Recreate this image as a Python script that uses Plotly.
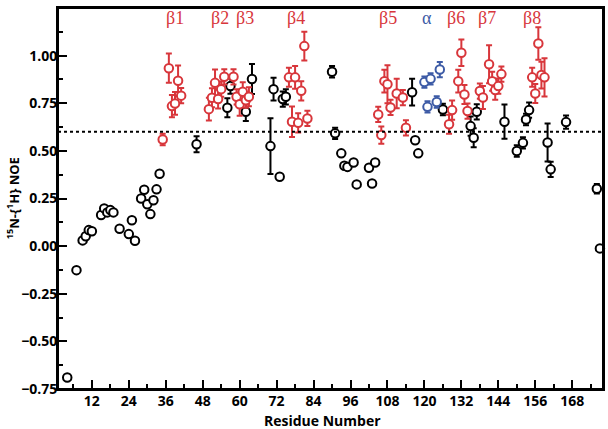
import plotly.graph_objects as go

# ---------------- data ----------------
black_x = [4, 7, 9, 10, 11, 12, 15, 16, 17, 18, 19, 21, 24, 25, 26, 28, 29, 30, 31, 32, 33, 34,
           73, 93, 94, 95, 97, 98, 102, 103, 104, 117, 118, 177]
black_y = [-0.69, -0.126, 0.03, 0.052, 0.084, 0.078, 0.163, 0.198, 0.177, 0.189, 0.177, 0.091,
           0.063, 0.136, 0.028, 0.25, 0.296, 0.22, 0.168, 0.241, 0.298, 0.38,
           0.364, 0.487, 0.422, 0.416, 0.439, 0.324, 0.411, 0.329, 0.439, 0.556, 0.487, -0.012]

blackerr_x = [46, 56, 57, 62, 64, 70, 71, 74, 75, 90, 91, 116, 126, 135, 136, 137, 146, 150,
              152, 153, 154, 160, 161, 166, 176]
blackerr_y = [0.535, 0.726, 0.84, 0.705, 0.877, 0.525, 0.824, 0.772, 0.784, 0.915, 0.592, 0.808,
              0.717, 0.63, 0.569, 0.705, 0.653, 0.499, 0.542, 0.665, 0.714, 0.544, 0.403, 0.651, 0.301]
blackerr_e = [0.042, 0.05, 0.04, 0.048, 0.079, 0.146, 0.06, 0.04, 0.04, 0.03, 0.03, 0.07,
              0.03, 0.05, 0.05, 0.04, 0.09, 0.03, 0.03, 0.03, 0.04, 0.1, 0.04, 0.035, 0.025]

red_x = [35, 37, 38, 39, 40, 41, 50, 51, 52, 53, 54, 55, 58, 59, 60, 61, 62, 63,
         76, 77, 78, 79, 80, 81, 82, 105, 106, 107, 108, 109, 111, 113, 114,
         128, 129, 131, 132, 133, 134, 138, 139, 141, 142, 143, 144, 145,
         155, 156, 157, 158, 159]
red_y = [0.56, 0.934, 0.735, 0.749, 0.868, 0.79, 0.719, 0.779, 0.857, 0.772, 0.824, 0.889,
         0.889, 0.784, 0.745, 0.81, 0.766, 0.784,
         0.886, 0.653, 0.886, 0.647, 0.815, 1.05, 0.67,
         0.691, 0.583, 0.866, 0.85, 0.728, 0.801, 0.78, 0.621,
         0.64, 0.714, 0.866, 1.015, 0.796, 0.709, 0.814, 0.78, 0.955, 0.866, 0.819, 0.84, 0.903,
         0.886, 0.801, 1.064, 0.898, 0.886]
red_e = [0.03, 0.077, 0.058, 0.06, 0.08, 0.04, 0.06, 0.05, 0.07, 0.05, 0.04, 0.04,
         0.04, 0.04, 0.06, 0.05, 0.04, 0.05,
         0.05, 0.08, 0.06, 0.05, 0.05, 0.075, 0.04,
         0.04, 0.045, 0.06, 0.10, 0.04, 0.077, 0.04, 0.04,
         0.05, 0.05, 0.06, 0.07, 0.05, 0.04, 0.04, 0.06, 0.1, 0.05, 0.05, 0.04, 0.04,
         0.05, 0.05, 0.085, 0.07, 0.1]

blue_x = [120, 121, 122, 124, 125]
blue_y = [0.861, 0.731, 0.878, 0.757, 0.927]
blue_e = [0.03, 0.03, 0.03, 0.03, 0.04]

ss_labels = ["β1", "β2", "β3", "β4", "β5", "α", "β6", "β7", "β8"]
ss_x = [39.0, 53.6, 61.8, 78.2, 108.2, 121.0, 130.1, 140.2, 154.8]
ss_y = 1.197

threshold = 0.6

x_ticks = list(range(12, 169, 12))
y_ticks = [-0.75, -0.5, -0.25, 0.0, 0.25, 0.5, 0.75, 1.0, 1.25]

x_title = "Residue Number"
y_title = "<sup>15</sup>N-{<sup>1</sup>H} NOE"

RED = "#d8363b"
BLUE = "#3d5ba6"
BLACK = "#000000"

fig = go.Figure()


def marker(color):
    return dict(symbol="circle", size=8.5, color="white", line=dict(color=color, width=2))


def err(values, color):
    return dict(type="data", array=values, visible=True, color=color, thickness=2, width=3)


fig.add_trace(go.Scatter(x=blackerr_x, y=blackerr_y, mode="markers", marker=marker(BLACK),
                         error_y=err(blackerr_e, BLACK), cliponaxis=False, showlegend=False))
fig.add_trace(go.Scatter(x=black_x, y=black_y, mode="markers", marker=marker(BLACK),
                         cliponaxis=False, showlegend=False))
fig.add_trace(go.Scatter(x=red_x, y=red_y, mode="markers", marker=marker(RED),
                         error_y=err(red_e, RED), cliponaxis=False, showlegend=False))
fig.add_trace(go.Scatter(x=blue_x, y=blue_y, mode="markers", marker=marker(BLUE),
                         error_y=err(blue_e, BLUE), cliponaxis=False, showlegend=False))

fig.add_hline(y=threshold, line=dict(color="black", width=2, dash="dot"))

# frame around the plot area
fig.add_shape(type="rect", xref="paper", yref="paper", x0=0, x1=1, y0=0, y1=1,
              line=dict(color="black", width=2), layer="above")

for lab, xv in zip(ss_labels, ss_x):
    fig.add_annotation(x=xv, y=ss_y, text=lab, showarrow=False,
                       font=dict(family="Liberation Serif", size=18,
                                 color=BLUE if lab == "α" else RED))

fig.add_annotation(xref="paper", yref="paper", x=0.486, y=-0.083, text=x_title,
                   showarrow=False, xanchor="center", yanchor="middle",
                   font=dict(family="Open Sans", size=14, color="black", weight="bold"))
fig.add_annotation(xref="paper", yref="paper", x=-0.083, y=0.5, text=y_title, textangle=-90,
                   showarrow=False, xanchor="center", yanchor="middle",
                   font=dict(family="Open Sans", size=13, color="black", weight="bold"))

tickfont = dict(family="Open Sans", size=14, color="black", weight="bold")

fig.update_xaxes(range=[1, 178], tickvals=x_ticks, ticks="inside", ticklen=9, tickwidth=2,
                 tickcolor="black", showline=True, linewidth=2, linecolor="black", mirror=True,
                 showgrid=False, zeroline=False, tickfont=tickfont, automargin=False,
                 ticklabelstandoff=-2,
                 minor=dict(ticks="inside", dtick=6, tick0=0, ticklen=5, tickwidth=2,
                            tickcolor="black", showgrid=False))
fig.update_yaxes(range=[-0.75, 1.25], tickvals=y_ticks, tickformat=".2f", ticks="inside",
                 ticklen=9, tickwidth=2, tickcolor="black", showline=True, linewidth=2,
                 linecolor="black", mirror=True, showgrid=False, zeroline=False, tickfont=tickfont,
                 automargin=False, ticklabelstandoff=-4,
                 minor=dict(ticks="inside", dtick=0.125, tick0=0, ticklen=5, tickwidth=2,
                            tickcolor="black", showgrid=False))

fig.update_layout(width=608, height=429, margin=dict(l=58, r=5, t=8, b=40, autoexpand=False),
                  plot_bgcolor="white", paper_bgcolor="white")

fig.write_html("out.html", config={"displayModeBar": False},
               post_script="document.body.style.margin='0';document.body.style.overflow='hidden';")
